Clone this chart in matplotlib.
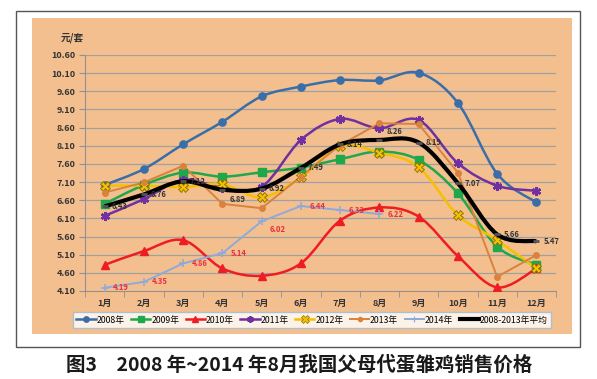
import numpy as np
import matplotlib
matplotlib.use("Agg")
import matplotlib.pyplot as plt
from matplotlib.path import Path
from matplotlib.patches import PathPatch, Rectangle
from matplotlib.lines import Line2D

plt.rcParams['font.family'] = ['Noto Sans CJK SC', 'DejaVu Sans']

months = ["1月", "2月", "3月", "4月", "5月", "6月", "7月", "8月", "9月", "10月", "11月", "12月"]
p2008 = [7.02, 7.46, 8.14, 8.76, 9.46, 9.73, 9.91, 9.90, 10.11, 9.28, 7.33, 6.54]
p2009 = [6.50, 7.02, 7.36, 7.25, 7.37, 7.50, 7.73, 7.94, 7.71, 6.79, 5.32, 4.82]
p2010 = [4.82, 5.20, 5.50, 4.72, 4.52, 4.86, 6.04, 6.40, 6.15, 5.06, 4.20, 4.72]
p2011 = [6.17, 6.63, 7.16, 6.95, 6.97, 8.26, 8.84, 8.58, 8.81, 7.62, 7.00, 6.86]
p2012 = [7.00, 7.00, 6.96, 7.04, 6.68, 7.23, 8.08, 7.91, 7.51, 6.19, 5.50, 4.72]
p2013 = [6.81, 7.09, 7.55, 6.50, 6.38, 7.25, 8.12, 8.72, 8.70, 7.36, 4.49, 5.09]
p2014 = [4.19, 4.35, 4.86, 5.14, 6.02, 6.44, 6.33, 6.22]
avg = [6.43, 6.76, 7.12, 6.89, 6.92, 7.49, 8.14, 8.26, 8.19, 7.07, 5.66, 5.47]

x = np.arange(1, 13)


def smooth_path(xs, ys):
    # Excel-style smoothed line: cubic bezier through each point
    pts = np.column_stack([xs, ys]).astype(float)
    ext = np.vstack([pts[0], pts, pts[-1]])
    verts = [pts[0]]
    codes = [Path.MOVETO]
    for i in range(len(pts) - 1):
        p0, p1, p2, p3 = ext[i], ext[i + 1], ext[i + 2], ext[i + 3]
        verts += [p1 + (p2 - p0) / 6, p2 - (p3 - p1) / 6, p2]
        codes += [Path.CURVE4] * 3
    return Path(verts, codes)


fig = plt.figure(figsize=(5.97, 3.79), dpi=100)
W, H = 597, 379
fig.patches.append(Rectangle((16 / W, 1 - 347 / H), 564 / W, 336 / H, transform=fig.transFigure,
                             facecolor="white", edgecolor="#555555", lw=1.0, zorder=-3))
fig.patches.append(Rectangle((32 / W, 1 - 334 / H), 540 / W, 316 / H, transform=fig.transFigure,
                             facecolor="#F4BF8F", edgecolor="none", zorder=-2))

ax = fig.add_axes([85 / W, 1 - 291 / H, 471 / W, 236 / H])
ax.set_facecolor("none")
ax.set_xlim(0.5, 12.5)
ax.set_ylim(4.10, 10.60)
yt = np.arange(4.10, 10.61, 0.5)
ax.set_yticks(yt)
ax.set_yticklabels([f"{v:.2f}" for v in yt])
for v in yt[1:]:
    ax.axhline(v, color="#A0A0A0", lw=0.9, zorder=0)
ax.set_xticks(x)
ax.set_xticklabels(months)
ax.set_xticks(np.arange(0.5, 12.6, 1), minor=True)
ax.tick_params(axis="x", which="major", length=0, pad=6)
ax.tick_params(axis="x", which="minor", length=4, color="#909090")
ax.tick_params(axis="y", length=4, color="#909090", pad=3)
ax.tick_params(labelsize=6.5, labelcolor="#333333")
for lab in ax.get_yticklabels() + ax.get_xticklabels():
    lab.set_fontweight("bold")
for s in ["top", "right"]:
    ax.spines[s].set_visible(False)
ax.spines["left"].set_color("#909090")
ax.spines["bottom"].set_color("#909090")

series = [
    ("2008年", p2008, "#3A6EA8", "o", dict(ms=5.2), True, 1.8),
    ("2009年", p2009, "#1FA84A", "s", dict(ms=5.2), True, 1.8),
    ("2010年", p2010, "#EE1D23", "^", dict(ms=5.2), True, 1.8),
    ("2011年", p2011, "#7030A0", (6, 2, 0), dict(ms=6.5, mew=1.8), True, 1.8),
    ("2012年", p2012, "#F5C000", "X", dict(ms=7, mec="#8A6A00", mew=0.6), True, 1.8),
    ("2013年", p2013, "#D9823C", "o", dict(ms=4), False, 1.4),
    ("2014年", p2014, "#8EAADB", "+", dict(ms=5.5, mew=1.1), False, 1.4),
]

handles = []
for name, vals, col, mk, mkw, smooth, lw in series:
    xs = x[:len(vals)]
    if smooth:
        ax.add_patch(PathPatch(smooth_path(xs, vals), fill=False, edgecolor=col, lw=lw, zorder=3))
    else:
        ax.plot(xs, vals, color=col, lw=lw, zorder=3)
    ax.plot(xs, vals, ls="none", marker=mk, color=col, zorder=4, **mkw)
    hk = {k: (v * 0.75 if k in ("ms", "mew") else v) for k, v in mkw.items()}
    handles.append(Line2D([], [], color=col, lw=lw, marker=mk, **hk))

ax.add_patch(PathPatch(smooth_path(x, avg), fill=False, edgecolor="black", lw=3.0, zorder=5))
ax.plot(x, avg, ls="none", marker="_", color="#555555", ms=4.5, mew=2, zorder=6)
handles.append(Line2D([], [], color="black", lw=3.0))

# data labels
avg_dy = {3: -7, 7: 6}
for i, v in enumerate(avg):
    ax.annotate(f"{v:.2f}", (x[i], v), xytext=(5, avg_dy.get(i, 0)), textcoords="offset points",
                fontsize=5.5, fontweight="bold", color="#333333", va="center", ha="left", zorder=7)
lab14_dy = {4: -6}
for i, v in enumerate(p2014):
    ax.annotate(f"{v:.2f}", (x[i], v), xytext=(6, lab14_dy.get(i, 0)), textcoords="offset points",
                fontsize=5.5, fontweight="bold", color="#E8303A", va="center", ha="left", zorder=7)

fig.text(72 / W, 1 - 38 / H, "元/套", fontsize=7, fontweight="bold", color="#333333", ha="center", va="center")

labels = [s[0] for s in series] + ["2008-2013年平均"]
leg = fig.legend(handles, labels, ncol=8, loc="center", bbox_to_anchor=(312 / W, 1 - 320 / H),
                 fontsize=6.3, frameon=True, fancybox=False, handlelength=2.2, handletextpad=0.1,
                 columnspacing=0.75, borderpad=0.35)
leg.get_frame().set_edgecolor("#9DB9D0")
leg.get_frame().set_facecolor("white")
leg.get_frame().set_linewidth(1.0)

fig.text(299 / W, 1 - 365 / H, "图3　2008 年~2014 年8月我国父母代蛋雏鸡销售价格", fontsize=14,
         fontweight="bold", color="#1a1a1a", ha="center", va="center")

fig.savefig("out.png", dpi=100)
